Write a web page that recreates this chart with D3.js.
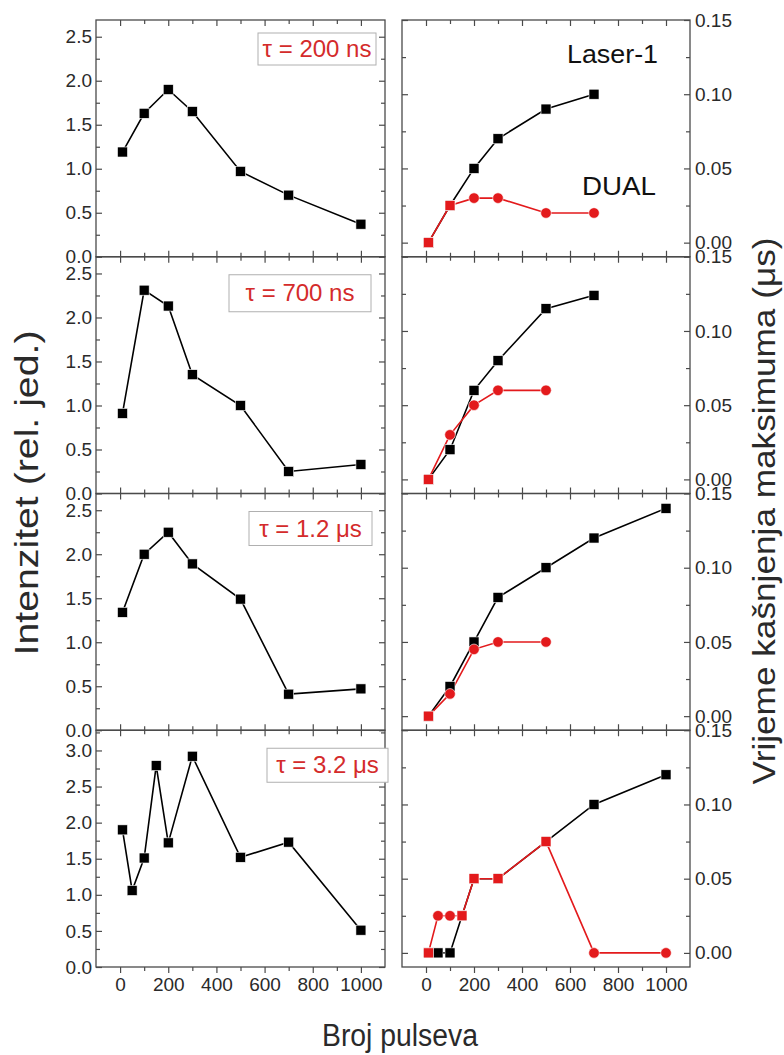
<!DOCTYPE html>
<html><head><meta charset="utf-8">
<script src="https://cdn.jsdelivr.net/npm/d3@7"></script>
<style>body{margin:0;background:#fff}svg{display:block;font-family:"Liberation Sans",Arial,sans-serif}</style>
</head><body><div id="chart"></div>
<script>
// ---- data ----
const tauLabels = ["τ = 200 ns", "τ = 700 ns", "τ = 1.2 μs", "τ = 3.2 μs"];
const pulsesA = [10, 100, 200, 300, 500, 700, 1000];
const pulsesB = [10, 50, 100, 150, 200, 300, 500, 700, 1000];
const int200  = [1.19, 1.63, 1.90, 1.65, 0.97, 0.70, 0.37];
const int700  = [0.91, 2.31, 2.13, 1.35, 1.00, 0.25, 0.33];
const int1200 = [1.34, 2.00, 2.25, 1.89, 1.49, 0.41, 0.47];
const int3200 = [1.90, 1.06, 1.51, 2.79, 1.72, 2.92, 1.52, 1.73, 0.51];

const laserX200 = [10, 100, 200, 300, 500, 700];
const laser200  = [0, 0.025, 0.05, 0.07, 0.09, 0.10];
const dualX200  = [10, 100, 200, 300, 500, 700];
const dual200   = [0, 0.025, 0.03, 0.03, 0.02, 0.02];
const laserX700 = [10, 100, 200, 300, 500, 700];
const laser700  = [0, 0.02, 0.06, 0.08, 0.115, 0.124];
const dualX700  = [10, 100, 200, 300, 500];
const dual700   = [0, 0.03, 0.05, 0.06, 0.06];
const laserX1200 = [10, 100, 200, 300, 500, 700, 1000];
const laser1200  = [0, 0.02, 0.05, 0.08, 0.10, 0.12, 0.14];
const dualX1200  = [10, 100, 200, 300, 500];
const dual1200   = [0, 0.015, 0.045, 0.05, 0.05];
const laserX3200 = [10, 50, 100, 150, 200, 300, 500, 700, 1000];
const laser3200  = [0, 0, 0, 0.025, 0.05, 0.05, 0.075, 0.10, 0.12];
const dualX3200  = [10, 50, 100, 150, 200, 300, 500, 700, 1000];
const dual3200   = [0, 0.025, 0.025, 0.025, 0.05, 0.05, 0.075, 0, 0];

const xMajor = [0, 200, 400, 600, 800, 1000];
const xMinor = [100, 300, 500, 700, 900];
const leftMax = [2.69, 2.69, 2.69, 3.28];
const leftMajor3 = [0, 0.5, 1.0, 1.5, 2.0, 2.5];
const leftMajor4 = [0, 0.5, 1.0, 1.5, 2.0, 2.5, 3.0];
const rightMajor = [0, 0.05, 0.10, 0.15];
const rightMinor = [0.025, 0.075, 0.125];

const intensity = [
  {x: pulsesA, y: int200}, {x: pulsesA, y: int700},
  {x: pulsesA, y: int1200}, {x: pulsesB, y: int3200}];
const delays = [
  {lx: laserX200, ly: laser200, dx: dualX200, dy: dual200},
  {lx: laserX700, ly: laser700, dx: dualX700, dy: dual700},
  {lx: laserX1200, ly: laser1200, dx: dualX1200, dy: dual1200},
  {lx: laserX3200, ly: laser3200, dx: dualX3200, dy: dual3200}];

// ---- layout ----
const W = 784, H = 1055;
const L0 = 96, L1 = 385, R0 = 402, R1 = 690;
const top0 = 20, ph = 236.75;
const boxes = [
  {x: 258, y: 13, w: 118, h: 32},
  {x: 229, y: 18, w: 142, h: 37},
  {x: 249, y: 18, w: 123, h: 34},
  {x: 267, y: 18, w: 121, h: 34}];
const RED = "#e31a1c", LRED = "#d42b2b", AX = "#4a4a4a", TXT = "#2a2a2a";

const svg = d3.select("#chart").append("svg").attr("width", W).attr("height", H);

const xl = d3.scaleLinear().domain([-100, 1100]).range([L0, L1]);
const xr = d3.scaleLinear().domain([-100, 1100]).range([R0, R1]);

function frame(g, x0, x1, y0, y1) {
  g.append("rect").attr("x", x0).attr("y", y0).attr("width", x1 - x0).attr("height", y1 - y0)
    .attr("fill", "none").attr("stroke", AX).attr("stroke-width", 1.3);
}
const styleText = a => a.selectAll("text").attr("font-size", 19).attr("fill", TXT).attr("font-family", "Liberation Sans, Arial");

for (let i = 0; i < 4; i++) {
  const yt = top0 + i * ph, yb = yt + ph;
  const last = i === 3;
  // ---------- left panel ----------
  const gl = svg.append("g");
  const yl = d3.scaleLinear().domain([0, leftMax[i]]).range([yb, yt]);
  const maj = last ? leftMajor4 : leftMajor3;
  const minr = d3.range(0.25, leftMax[i], 0.5);
  gl.append("g").attr("transform", `translate(${L0},0)`).call(d3.axisRight(yl).tickValues(maj).tickSize(6).tickFormat(""));
  gl.append("g").attr("transform", `translate(${L0},0)`).call(d3.axisRight(yl).tickValues(minr).tickSize(4).tickFormat(""));
  gl.append("g").attr("transform", `translate(${L1},0)`).call(d3.axisLeft(yl).tickValues(maj).tickSize(6).tickFormat(""));
  gl.append("g").attr("transform", `translate(${L1},0)`).call(d3.axisLeft(yl).tickValues(minr).tickSize(4).tickFormat(""));
  gl.append("g").attr("transform", `translate(${L0},0)`)
    .call(d3.axisLeft(yl).tickValues(maj).tickSize(0).tickPadding(4).tickFormat(d3.format(".1f")))
    .call(styleText);
  gl.append("g").attr("transform", `translate(0,${yt})`).call(d3.axisBottom(xl).tickValues(xMajor).tickSize(6).tickFormat(""));
  gl.append("g").attr("transform", `translate(0,${yt})`).call(d3.axisBottom(xl).tickValues(xMinor).tickSize(4).tickFormat(""));
  if (last) {
    gl.append("g").attr("transform", `translate(0,${yb})`)
      .call(d3.axisBottom(xl).tickValues(xMajor).tickSize(6).tickPadding(5).tickFormat(d3.format("d")))
      .call(styleText);
    gl.append("g").attr("transform", `translate(0,${yb})`).call(d3.axisBottom(xl).tickValues(xMinor).tickSize(4).tickFormat(""));
  } else {
    gl.append("g").attr("transform", `translate(0,${yb})`).call(d3.axisTop(xl).tickValues(xMajor).tickSize(6).tickFormat(""));
    gl.append("g").attr("transform", `translate(0,${yb})`).call(d3.axisTop(xl).tickValues(xMinor).tickSize(4).tickFormat(""));
  }
  gl.selectAll(".domain").remove();
  gl.selectAll(".tick line").attr("stroke", AX).attr("stroke-width", 1.2);
  frame(gl, L0, L1, yt, yb);
  const d = intensity[i].x.map((x, k) => ({x, y: intensity[i].y[k]}));
  gl.append("path").datum(d).attr("fill", "none").attr("stroke", "#000").attr("stroke-width", 1.6)
    .attr("d", d3.line().x(p => xl(p.x)).y(p => yl(p.y)));
  gl.selectAll("rect.m").data(d).enter().append("rect").attr("class", "m")
    .attr("x", p => xl(p.x) - 5).attr("y", p => yl(p.y) - 5).attr("width", 10).attr("height", 10)
    .attr("fill", "#000").attr("stroke", "#fff").attr("stroke-width", 0.6);
  const b = boxes[i];
  gl.append("rect").attr("x", b.x).attr("y", yt + b.y).attr("width", b.w).attr("height", b.h)
    .attr("fill", "#fff").attr("stroke", "#b0b0b0").attr("stroke-width", 1);
  gl.append("text").attr("x", b.x + b.w / 2).attr("y", yt + b.y + b.h / 2 + 8).attr("text-anchor", "middle")
    .attr("font-size", 24).attr("fill", LRED).text(tauLabels[i]);

  // ---------- right panel ----------
  const gr = svg.append("g");
  const yr = d3.scaleLinear().domain([-0.0095, 0.15]).range([yb, yt]);
  gr.append("g").attr("transform", `translate(${R1},0)`).call(d3.axisLeft(yr).tickValues(rightMajor).tickSize(6).tickFormat(""));
  gr.append("g").attr("transform", `translate(${R1},0)`).call(d3.axisLeft(yr).tickValues(rightMinor).tickSize(4).tickFormat(""));
  gr.append("g").attr("transform", `translate(${R0},0)`).call(d3.axisRight(yr).tickValues(rightMajor).tickSize(6).tickFormat(""));
  gr.append("g").attr("transform", `translate(${R0},0)`).call(d3.axisRight(yr).tickValues(rightMinor).tickSize(4).tickFormat(""));
  gr.append("g").attr("transform", `translate(${R1},0)`)
    .call(d3.axisRight(yr).tickValues(rightMajor).tickSize(0).tickPadding(5).tickFormat(d3.format(".2f")))
    .call(styleText);
  gr.append("g").attr("transform", `translate(0,${yt})`).call(d3.axisBottom(xr).tickValues(xMajor).tickSize(6).tickFormat(""));
  gr.append("g").attr("transform", `translate(0,${yt})`).call(d3.axisBottom(xr).tickValues(xMinor).tickSize(4).tickFormat(""));
  if (last) {
    gr.append("g").attr("transform", `translate(0,${yb})`)
      .call(d3.axisBottom(xr).tickValues(xMajor).tickSize(6).tickPadding(5).tickFormat(d3.format("d")))
      .call(styleText);
    gr.append("g").attr("transform", `translate(0,${yb})`).call(d3.axisBottom(xr).tickValues(xMinor).tickSize(4).tickFormat(""));
  } else {
    gr.append("g").attr("transform", `translate(0,${yb})`).call(d3.axisTop(xr).tickValues(xMajor).tickSize(6).tickFormat(""));
    gr.append("g").attr("transform", `translate(0,${yb})`).call(d3.axisTop(xr).tickValues(xMinor).tickSize(4).tickFormat(""));
  }
  gr.selectAll(".domain").remove();
  gr.selectAll(".tick line").attr("stroke", AX).attr("stroke-width", 1.2);
  frame(gr, R0, R1, yt, yb);

  const s = delays[i];
  const lp = s.lx.map((x, k) => ({x, y: s.ly[k]}));
  const dp = s.dx.map((x, k) => ({x, y: s.dy[k]}));
  const coincide = p => lp.some(q => q.x === p.x && Math.abs(q.y - p.y) < 1e-9);
  const line = d3.line().x(p => xr(p.x)).y(p => yr(p.y));
  gr.append("path").datum(lp).attr("fill", "none").attr("stroke", "#000").attr("stroke-width", 1.6).attr("d", line);
  gr.append("path").datum(dp).attr("fill", "none").attr("stroke", RED).attr("stroke-width", 1.6).attr("d", line);
  gr.selectAll("rect.l").data(lp).enter().append("rect").attr("class", "l")
    .attr("x", p => xr(p.x) - 5).attr("y", p => yr(p.y) - 5).attr("width", 10).attr("height", 10)
    .attr("fill", "#000").attr("stroke", "#fff").attr("stroke-width", 0.6);
  gr.selectAll("circle.d").data(dp.filter(p => !coincide(p))).enter().append("circle").attr("class", "d")
    .attr("cx", p => xr(p.x)).attr("cy", p => yr(p.y)).attr("r", 5.3)
    .attr("fill", RED).attr("stroke", "#fff").attr("stroke-width", 0.6);
  gr.selectAll("rect.c").data(dp.filter(coincide)).enter().append("rect").attr("class", "c")
    .attr("x", p => xr(p.x) - 5).attr("y", p => yr(p.y) - 5).attr("width", 10).attr("height", 10)
    .attr("fill", RED).attr("stroke", "#fff").attr("stroke-width", 0.6);

  if (i === 0) {
    gr.append("text").attr("x", 567).attr("y", 63).attr("font-size", 26)
      .attr("textLength", 91).attr("lengthAdjust", "spacingAndGlyphs").attr("fill", "#111").text("Laser-1");
    gr.append("text").attr("x", 582).attr("y", 195).attr("font-size", 25)
      .attr("textLength", 74).attr("lengthAdjust", "spacingAndGlyphs").attr("fill", "#111").text("DUAL");
  }
}

svg.append("text").attr("x", 400).attr("y", 1046).attr("text-anchor", "middle").attr("font-size", 31)
  .attr("textLength", 156).attr("lengthAdjust", "spacingAndGlyphs").attr("fill", TXT).text("Broj pulseva");
svg.append("text").attr("transform", "translate(38,493) rotate(-90)").attr("text-anchor", "middle")
  .attr("font-size", 34).attr("textLength", 325).attr("lengthAdjust", "spacingAndGlyphs").attr("fill", TXT)
  .text("Intenzitet (rel. jed.)");
svg.append("text").attr("transform", "translate(775,511) rotate(-90)").attr("text-anchor", "middle")
  .attr("font-size", 32).attr("textLength", 547).attr("lengthAdjust", "spacingAndGlyphs").attr("fill", TXT)
  .text("Vrijeme kašnjenja maksimuma (μs)");
</script></body></html>
